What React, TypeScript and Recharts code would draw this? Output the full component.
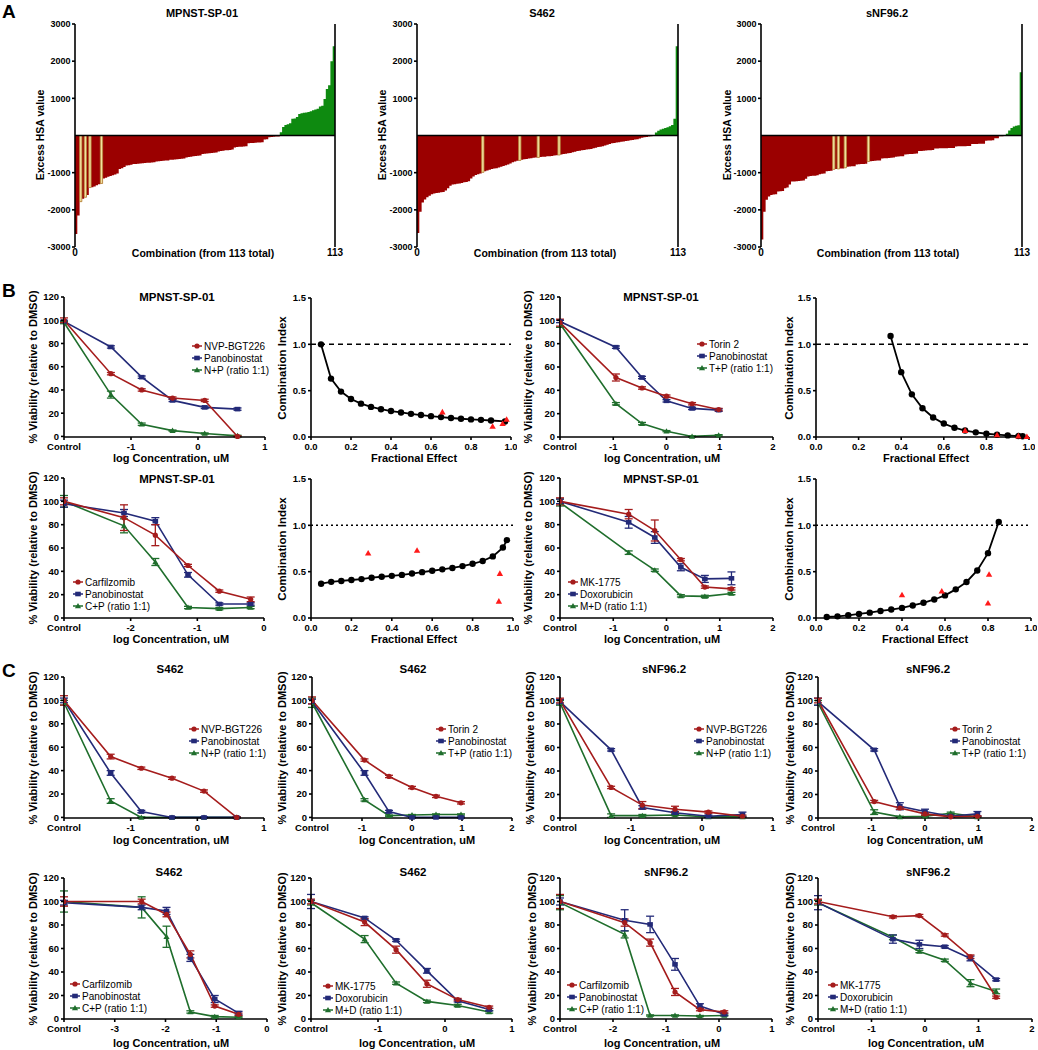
import React from 'react';
import {
  ComposedChart, Area, XAxis, YAxis, ReferenceLine,
  LineChart, Line, ErrorBar, Scatter,
} from 'recharts';

const FONT = '"Liberation Sans", Arial, Helvetica, sans-serif';
const C_RED = '#a51c1c';
const C_BLUE = '#232a78';
const C_GREEN = '#1f6e2c';
const BAR_RED = '#9b0000';
const BAR_GREEN = '#0e8a10';
const BAR_YELLOW = '#f3e0a0';
const BAR_YELLOW_EDGE = '#b58a3c';
const TRI_RED = '#ff1a1a';

// ---------------- Panel A: excess HSA values (113 combinations, sorted) ----------------
const HSA_MPNST = [
  -2650, -2150, -1780, -1700, -1660, -1600, -1400, -1390, -1370, -1340,
  -1310, -1290, -1160, -1140, -1110, -1090, -1070, -1050, -1020, -900,
  -880, -850, -810, -800, -790, -770, -765, -760, -755, -745,
  -740, -735, -730, -725, -720, -700, -690, -685, -680, -675,
  -670, -655, -650, -645, -640, -630, -625, -620, -590, -580,
  -570, -560, -550, -545, -540, -500, -490, -485, -480, -470,
  -465, -460, -430, -420, -410, -400, -395, -390, -380, -320,
  -310, -305, -300, -295, -290, -210, -205, -200, -195, -190,
  -185, -180, -110, -100, -45, -40, -35, -30, -25, 90,
  230, 280, 300, 330, 450, 460, 500, 580, 600, 610,
  620, 630, 650, 680, 700, 720, 780, 800, 980, 1250,
  1350, 2000, 2400,
];
const HSA_MPNST_HIGHLIGHT = [2, 4, 6, 11];

const HSA_S462 = [
  -2620, -2050, -1800, -1720, -1660, -1620, -1580, -1560, -1550, -1540,
  -1530, -1520, -1480, -1420, -1350, -1320, -1310, -1300, -1290, -1280,
  -1260, -1250, -1230, -1160, -1100, -1060, -1040, -1020, -990, -960,
  -940, -920, -900, -890, -880, -860, -840, -820, -800, -780,
  -750, -720, -700, -680, -670, -650, -640, -630, -620, -610,
  -600, -595, -590, -580, -575, -570, -560, -555, -550, -540,
  -530, -525, -510, -500, -490, -480, -470, -450, -440, -420,
  -410, -400, -390, -380, -370, -360, -340, -330, -310, -300,
  -290, -270, -250, -230, -210, -200, -190, -180, -170, -160,
  -150, -140, -130, -120, -110, -100, -80, -60, -50, -40,
  -30, -20, -10, 80, 130, 160, 180, 200, 220, 250,
  280, 450, 2400,
];
const HSA_S462_HIGHLIGHT = [28, 44, 52, 61];

const HSA_SNF = [
  -2800, -2050, -1730, -1640, -1600, -1590, -1580, -1510, -1500, -1490,
  -1420, -1400, -1320, -1240, -1235, -1230, -1225, -1220, -1210, -1165,
  -1100, -1090, -1085, -1080, -1070, -1040, -1030, -1020, -960, -955,
  -950, -910, -900, -900, -890, -885, -870, -840, -835, -830,
  -825, -780, -775, -770, -765, -760, -700, -690, -685, -680,
  -675, -670, -620, -615, -610, -605, -600, -595, -570, -565,
  -560, -555, -510, -505, -500, -495, -490, -485, -420, -415,
  -410, -405, -400, -395, -390, -350, -348, -346, -344, -342,
  -340, -338, -336, -334, -295, -292, -290, -288, -286, -284,
  -282, -230, -228, -226, -224, -222, -220, -140, -136, -132,
  -128, -75, -72, -20, -18, -15, 45, 136, 200, 245,
  265, 275, 1700,
];
const HSA_SNF_HIGHLIGHT = [31, 33, 36, 46];

const HSA_Y_TICKS = [-3000, -2000, -1000, 1000, 2000, 3000];

// ---------------- Panels B & C: viability (% of DMSO) ----------------
const VIAB_Y_TICKS = [0, 20, 40, 60, 80, 100, 120];

const DRUGS_NP = ['NVP-BGT226', 'Panobinostat', 'N+P (ratio 1:1)'];
const DRUGS_TP = ['Torin 2', 'Panobinostat', 'T+P (ratio 1:1)'];
const DRUGS_CP = ['Carfilzomib', 'Panobinostat', 'C+P (ratio 1:1)'];
const DRUGS_MD = ['MK-1775', 'Doxorubicin', 'M+D (ratio 1:1)'];

const B1_DOSE = [-2, -1.3, -0.84, -0.38, 0.1, 0.59];
const B1_RED = [100, 54, 40, 33, 31, 0];
const B1_BLUE = [99, 77, 51, 31, 25, 23.5];
const B1_GREEN = [98, 36, 10.5, 5, 2.5, 0.5];
const B1_RED_SD = [2, 1, 1, 1, 1, 0.5];
const B1_BLUE_SD = [1, 1, 1, 1, 1, 1];
const B1_GREEN_SD = [1, 3, 1, 0.5, 0.5, 0.5];

const B3_DOSE = [-2, -0.95, -0.46, 0, 0.48, 0.98];
const B3_RED = [98, 51, 42, 35, 28.5, 23.5];
const B3_BLUE = [99, 77, 51, 31, 24.5, 23];
const B3_GREEN = [97, 28.5, 11.5, 5, 0.5, 1.5];
const B3_RED_SD = [3, 3, 1, 1, 1, 1];
const B3_BLUE_SD = [1, 1, 1, 1, 1, 1];
const B3_GREEN_SD = [3, 1, 1, 0.5, 0.5, 0.5];

const B5_DOSE = [-3, -2.1, -1.63, -1.14, -0.67, -0.2];
const B5_RED = [100, 86, 71, 45, 23, 16];
const B5_BLUE = [98, 90, 83, 37, 12, 12];
const B5_GREEN = [100, 79, 48, 9, 8, 9];
const B5_RED_SD = [3, 11, 9, 1, 1, 2];
const B5_BLUE_SD = [3, 3, 3, 2, 1, 1];
const B5_GREEN_SD = [5, 6, 3, 1, 1, 1];

const B7_DOSE = [-2, -0.71, -0.22, 0.27, 0.72, 1.22];
const B7_RED = [100, 89, 75, 50, 26.5, 25];
const B7_BLUE = [100, 82, 69, 43.5, 33.5, 34];
const B7_GREEN = [99, 56, 41, 19, 18.5, 21];
const B7_RED_SD = [3, 4, 9, 1, 1, 1];
const B7_BLUE_SD = [2, 5, 5, 3, 3, 5.5];
const B7_GREEN_SD = [3, 1.5, 1, 1, 1, 1];

const C1_DOSE = [-2, -1.3, -0.84, -0.38, 0.1, 0.59];
const C1_RED = [100, 52, 42, 33.5, 22.5, 0];
const C1_BLUE = [100, 38, 5, 0, 0, 0];
const C1_GREEN = [98, 14, 0, 0, 0, 0];
const C1_RED_SD = [4, 2, 1, 1, 1, 0.5];
const C1_BLUE_SD = [2, 2, 1, 0.5, 0.5, 0.5];
const C1_GREEN_SD = [2, 2, 0.5, 0.5, 0.5, 0.5];

const C2_DOSE = [-2, -0.95, -0.46, 0, 0.48, 0.98];
const C2_RED = [100, 49, 35, 25.5, 18, 12.5];
const C2_BLUE = [99, 38, 5, 0, 0, 0];
const C2_GREEN = [98, 15, 1.5, 2, 2.5, 2.5];
const C2_RED_SD = [3, 1, 1, 1, 1, 1];
const C2_BLUE_SD = [2, 2, 1, 0.5, 0.5, 0.5];
const C2_GREEN_SD = [4, 1, 0.5, 0.5, 0.5, 0.5];

const C3_DOSE = [-2, -1.28, -0.84, -0.38, 0.09, 0.57];
const C3_RED = [100, 26, 11, 7.5, 5, 1.5];
const C3_BLUE = [99, 58, 9, 4.5, 1.5, 3];
const C3_GREEN = [98, 2, 2, 2.5, 1, 1];
const C3_RED_SD = [2, 1, 3, 2.5, 1, 1];
const C3_BLUE_SD = [2, 1, 1.5, 1, 1, 2];
const C3_GREEN_SD = [2, 1.5, 1, 0.5, 0.5, 0.5];

const C4_DOSE = [-2, -0.95, -0.47, 0, 0.48, 0.98];
const C4_RED = [100, 14, 8.5, 3.5, 1, 1.5];
const C4_BLUE = [99, 58, 10, 5.5, 1.5, 3.5];
const C4_GREEN = [98, 5, 1, 1.5, 4, 1];
const C4_RED_SD = [2, 1, 1, 1, 0.5, 0.5];
const C4_BLUE_SD = [3, 1, 3, 2, 0.5, 2];
const C4_GREEN_SD = [2, 2, 0.5, 0.5, 1, 0.5];

const C5_DOSE = [-4, -2.47, -1.98, -1.51, -1.03, -0.56];
const C5_RED = [100, 100, 89, 55, 11, 4];
const C5_BLUE = [99, 95, 92, 52, 17, 5];
const C5_GREEN = [100, 95, 70, 6, 2, 1.5];
const C5_RED_SD = [4, 2, 2, 3, 1, 1];
const C5_BLUE_SD = [2, 2, 3, 3, 3, 1.5];
const C5_GREEN_SD = [9, 9, 9, 1, 1, 0.5];

const C6_DOSE = [-2, -1.2, -0.73, -0.27, 0.19, 0.66];
const C6_RED = [100, 82.5, 59, 30, 16.5, 10];
const C6_BLUE = [100, 86, 67, 41, 15.5, 8];
const C6_GREEN = [99, 68, 30.5, 15, 11.5, 6];
const C6_RED_SD = [2, 3, 3, 3, 1, 1];
const C6_BLUE_SD = [6, 1, 1, 2, 1, 1];
const C6_GREEN_SD = [2, 3, 1, 1, 1, 1];

const C7_DOSE = [-3, -1.78, -1.3, -0.83, -0.36, 0.1];
const C7_RED = [100, 82, 65, 23, 8, 6];
const C7_BLUE = [100, 84, 80.5, 46.5, 11, 4];
const C7_GREEN = [99, 72, 3, 3, 2.5, 3];
const C7_RED_SD = [6, 3, 3, 3, 1, 1];
const C7_BLUE_SD = [3, 9, 7, 5, 2, 1];
const C7_GREEN_SD = [6, 3, 0.5, 0.5, 0.5, 0.5];

const C8_DOSE = [-2, -0.6, -0.105, 0.37, 0.85, 1.33];
const C8_RED = [100, 87, 88, 71.5, 53, 18.5];
const C8_BLUE = [99, 68, 63.5, 61.5, 51.5, 33.5];
const C8_GREEN = [99, 69.5, 57.5, 50, 30.5, 23.5];
const C8_RED_SD = [2, 1, 1, 1, 1.5, 1];
const C8_BLUE_SD = [6, 3.5, 3.5, 1, 2, 1];
const C8_GREEN_SD = [2, 2, 1, 1, 3, 2];

// ---------------- Panel B: combination index ----------------
const CI_X_TICKS = [0, 0.2, 0.4, 0.6, 0.8, 1.0];
const CI_Y_TICKS = [0, 0.5, 1.0, 1.5];

const B2_FA = [0.05, 0.1, 0.15, 0.2, 0.25, 0.3, 0.35, 0.4, 0.45, 0.5, 0.55, 0.6, 0.65, 0.7, 0.75, 0.8, 0.85, 0.9, 0.97];
const B2_CI = [1.0, 0.63, 0.49, 0.41, 0.36, 0.325, 0.3, 0.28, 0.265, 0.25, 0.237, 0.225, 0.215, 0.205, 0.197, 0.19, 0.185, 0.178, 0.168];
const B2_OBS_FA = [0.657, 0.908, 0.958, 0.978];
const B2_OBS_CI = [0.27, 0.115, 0.144, 0.19];

const B4_FA = [0.35, 0.4, 0.45, 0.5, 0.55, 0.6, 0.65, 0.7, 0.75, 0.8, 0.85, 0.9, 0.95, 0.97];
const B4_CI = [1.09, 0.7, 0.46, 0.31, 0.21, 0.145, 0.1, 0.07, 0.05, 0.035, 0.025, 0.017, 0.01, 0.008];
const B4_OBS_FA = [0.7, 0.85, 0.95, 0.99];
const B4_OBS_CI = [0.07, 0.022, 0.01, 0.004];

const B6_FA = [0.05, 0.1, 0.15, 0.2, 0.25, 0.3, 0.35, 0.4, 0.45, 0.5, 0.55, 0.6, 0.65, 0.7, 0.75, 0.8, 0.85, 0.9, 0.95, 0.97];
const B6_CI = [0.37, 0.39, 0.4, 0.41, 0.42, 0.435, 0.445, 0.455, 0.465, 0.48, 0.495, 0.51, 0.525, 0.54, 0.56, 0.585, 0.615, 0.665, 0.76, 0.84];
const B6_OBS_FA = [0.283, 0.525, 0.935, 0.93];
const B6_OBS_CI = [0.7, 0.73, 0.48, 0.18];

const B8_FA = [0.05, 0.1, 0.15, 0.2, 0.25, 0.3, 0.35, 0.4, 0.45, 0.5, 0.55, 0.6, 0.65, 0.7, 0.75, 0.8, 0.85];
const B8_CI = [0.011, 0.018, 0.029, 0.044, 0.058, 0.076, 0.091, 0.109, 0.135, 0.164, 0.2, 0.244, 0.309, 0.389, 0.513, 0.7, 1.036];
const B8_OBS_FA = [0.4, 0.585, 0.805, 0.8];
const B8_OBS_CI = [0.25, 0.29, 0.47, 0.16];

// ---------------- layout helpers ----------------
type Rect = { l: number; t: number; r: number; b: number };
const YW = 40;
const MT = 6;
const MR = 6;
const MR_HSA = 14;
const XH = 24;

const AXIS_LINE = { stroke: '#000', strokeWidth: 1.6 };
const TICK_STYLE = { fontSize: 9.5, fontWeight: 700, fill: '#000', fontFamily: FONT };

function Txt(props: { x: number; y: number; size?: number; weight?: number; rotate?: boolean; left?: boolean; children: React.ReactNode }) {
  const { x, y, size = 11, weight = 700, rotate = false, left = false, children } = props;
  return (
    <div
      style={{
        position: 'absolute', left: x, top: y, fontFamily: FONT, fontSize: size, fontWeight: weight,
        color: '#000', whiteSpace: 'nowrap', lineHeight: 1,
        transform: `translate(${left ? '0' : '-50%'}, -50%)${rotate ? ' rotate(-90deg)' : ''}`,
      }}
    >
      {children}
    </div>
  );
}

type Shape = 'circle' | 'square' | 'triangle';
function marker(shape: Shape, cx: number, cy: number, color: string, key?: any) {
  if (shape === 'circle') return <circle key={key} cx={cx} cy={cy} r={2.6} fill={color} />;
  if (shape === 'square') return <rect key={key} x={cx - 2.8} y={cy - 2.3} width={5.6} height={4.6} fill={color} />;
  return <path key={key} d={`M${cx},${cy - 3} L${cx + 3.1},${cy + 2.3} L${cx - 3.1},${cy + 2.3} Z`} fill={color} />;
}

const SERIES: { key: string; err: string; color: string; shape: Shape }[] = [
  { key: 'g', err: 'ge', color: C_GREEN, shape: 'triangle' },
  { key: 'b', err: 'be', color: C_BLUE, shape: 'square' },
  { key: 'r', err: 're', color: C_RED, shape: 'circle' },
];
const LEGEND_ORDER: { color: string; shape: Shape }[] = [
  { color: C_RED, shape: 'circle' },
  { color: C_BLUE, shape: 'square' },
  { color: C_GREEN, shape: 'triangle' },
];

function LegendBox(props: { x: number; y: number; names: string[] }) {
  const { x, y, names } = props;
  return (
    <div style={{ position: 'absolute', left: x, top: y - 6, fontFamily: FONT, fontSize: 10, color: '#000' }}>
      {names.map((n, i) => (
        <div key={n} style={{ display: 'flex', alignItems: 'center', height: 12, whiteSpace: 'nowrap' }}>
          <svg width={10} height={8} style={{ display: 'block' }}>
            <line x1={0} y1={4} x2={10} y2={4} stroke={LEGEND_ORDER[i].color} strokeWidth={1.5} />
            {marker(LEGEND_ORDER[i].shape, 5, 4, LEGEND_ORDER[i].color)}
          </svg>
          <span style={{ marginLeft: 2 }}>{n}</span>
        </div>
      ))}
    </div>
  );
}

// ---------------- HSA waterfall (contiguous step bars) ----------------
function HsaChart(props: { values: number[]; highlight: number[]; plot: Rect }) {
  const { values, highlight, plot } = props;
  const n = values.length;
  const rows = values.map((v, i) => ({
    x: i,
    neg: Math.min(v, 0),
    pos: Math.max(v, 0),
    hl: highlight.includes(i) ? v : 0,
  }));
  rows.push({ x: n, neg: 0, pos: 0, hl: 0 });
  const w = plot.r - plot.l;
  const h = plot.b - plot.t;
  return (
    <div style={{ position: 'absolute', left: plot.l - YW, top: plot.t - MT }}>
      <ComposedChart width={w + YW + MR_HSA + 1} height={h + MT + XH} data={rows} margin={{ top: MT, right: MR_HSA, left: 0, bottom: 0 }}>
        <XAxis dataKey="x" type="number" domain={[0, n]} ticks={[0, n]} interval={0} axisLine={false} tickLine={false}
          tickSize={0} tickMargin={2} height={XH} tick={{ ...TICK_STYLE, fontSize: 10 }} />
        <YAxis yAxisId="l" width={YW} type="number" domain={[-3000, 3000]} ticks={HSA_Y_TICKS} interval={0}
          axisLine={AXIS_LINE} tickLine={AXIS_LINE} tickSize={3} tickMargin={1.5} tick={{ ...TICK_STYLE, fontSize: 9 }} />
        <YAxis yAxisId="r" orientation="right" width={1} type="number" domain={[-3000, 3000]} tick={false} tickLine={false} axisLine={AXIS_LINE} />
        <Area yAxisId="l" type="stepAfter" dataKey="neg" baseValue={0} fill={BAR_RED} fillOpacity={1} stroke="none" isAnimationActive={false} dot={false} activeDot={false} />
        <Area yAxisId="l" type="stepAfter" dataKey="pos" baseValue={0} fill={BAR_GREEN} fillOpacity={1} stroke="none" isAnimationActive={false} dot={false} activeDot={false} />
        <Area yAxisId="l" type="stepAfter" dataKey="hl" baseValue={0} fill={BAR_YELLOW} fillOpacity={1} stroke={BAR_YELLOW_EDGE} strokeWidth={0.8} isAnimationActive={false} dot={false} activeDot={false} />
        <ReferenceLine yAxisId="l" y={0} stroke="#000" strokeWidth={1.6} />
      </ComposedChart>
    </div>
  );
}

// ---------------- viability chart ----------------
type ViabCfg = {
  id: string; plot: Rect; dose: number[]; red: number[]; blue: number[]; green: number[];
  redSd: number[]; blueSd: number[]; greenSd: number[]; domain: [number, number]; ticks: number[];
  drugs: string[]; title: string; tx: number; ty: number; ylx: number; xlx: number; xly: number; lx: number; ly: number;
};

function ViabilityChart({ cfg }: { cfg: ViabCfg }) {
  const { plot, dose, red, blue, green, redSd, blueSd, greenSd, domain, ticks } = cfg;
  const data = dose.map((x, i) => ({ x, r: red[i], b: blue[i], g: green[i], re: redSd[i], be: blueSd[i], ge: greenSd[i] }));
  const w = plot.r - plot.l;
  const h = plot.b - plot.t;
  return (
    <div style={{ position: 'absolute', left: plot.l - YW, top: plot.t - MT }}>
      <LineChart width={w + YW + MR} height={h + MT + XH} data={data} margin={{ top: MT, right: MR, left: 0, bottom: 0 }}>
        <XAxis dataKey="x" type="number" domain={domain} ticks={ticks} interval={0} allowDataOverflow height={XH}
          tickFormatter={(v: number) => (v === domain[0] ? 'Control' : String(v))}
          axisLine={AXIS_LINE} tickLine={AXIS_LINE} tickSize={3} tickMargin={3} tick={TICK_STYLE} />
        <YAxis type="number" domain={[0, 120]} ticks={VIAB_Y_TICKS} interval={0} width={YW}
          axisLine={AXIS_LINE} tickLine={AXIS_LINE} tickSize={3} tickMargin={2} tick={TICK_STYLE} />
        {SERIES.map((s) => (
          <Line key={s.key} dataKey={s.key} stroke={s.color} strokeWidth={1.6} isAnimationActive={false}
            dot={(p: any) => (p.cy == null ? <g key={p.index} /> : marker(s.shape, p.cx, p.cy, s.color, p.index))}
            activeDot={false}>
            <ErrorBar dataKey={s.err} width={4} stroke={s.color} strokeWidth={1.3} direction="y" />
          </Line>
        ))}
      </LineChart>
    </div>
  );
}

// ---------------- combination index chart ----------------
type CiCfg = { id: string; plot: Rect; fa: number[]; ci: number[]; obsFa: number[]; obsCi: number[]; dash: string; ylx: number; xlx: number; xly: number };

function CIChart({ cfg }: { cfg: CiCfg }) {
  const { plot, fa, ci, obsFa, obsCi, dash } = cfg;
  const curve = fa.map((f, i) => ({ fa: f, ci: ci[i] }));
  const obs = obsFa.map((f, i) => ({ fa: f, ci: obsCi[i] }));
  const w = plot.r - plot.l;
  const h = plot.b - plot.t;
  return (
    <div style={{ position: 'absolute', left: plot.l - YW, top: plot.t - MT }}>
      <ComposedChart width={w + YW + MR} height={h + MT + XH} data={curve} margin={{ top: MT, right: MR, left: 0, bottom: 0 }}>
        <XAxis dataKey="fa" type="number" domain={[0, 1]} ticks={CI_X_TICKS} interval={0} height={XH}
          tickFormatter={(v: number) => v.toFixed(1)}
          axisLine={AXIS_LINE} tickLine={AXIS_LINE} tickSize={3} tickMargin={3} tick={TICK_STYLE} />
        <YAxis dataKey="ci" type="number" domain={[0, 1.5]} ticks={CI_Y_TICKS} interval={0} width={YW}
          tickFormatter={(v: number) => v.toFixed(1)}
          axisLine={AXIS_LINE} tickLine={AXIS_LINE} tickSize={3} tickMargin={2} tick={TICK_STYLE} />
        <ReferenceLine y={1} stroke="#000" strokeWidth={1.5} strokeDasharray={dash} />
        <Line dataKey="ci" stroke="#000" strokeWidth={1.8} isAnimationActive={false} activeDot={false}
          dot={(p: any) => <circle key={p.index} cx={p.cx} cy={p.cy} r={3.2} fill="#000" />} />
        <Scatter data={obs} dataKey="ci" isAnimationActive={false}
          shape={(p: any) => <path d={`M${p.cx},${p.cy - 3.2} L${p.cx + 3.2},${p.cy + 2.4} L${p.cx - 3.2},${p.cy + 2.4} Z`} fill={TRI_RED} />} />
      </ComposedChart>
    </div>
  );
}

// ---------------- configuration (positions) ----------------
const HSA_PANELS = [
  { values: HSA_MPNST, highlight: HSA_MPNST_HIGHLIGHT, plot: { l: 75, t: 24, r: 335, b: 247 }, title: 'MPNST-SP-01', tx: 202, ylx: 40, xlx: 203 },
  { values: HSA_S462, highlight: HSA_S462_HIGHLIGHT, plot: { l: 417, t: 24, r: 678, b: 247 }, title: 'S462', tx: 542, ylx: 382, xlx: 545 },
  { values: HSA_SNF, highlight: HSA_SNF_HIGHLIGHT, plot: { l: 761, t: 24, r: 1022, b: 247 }, title: 'sNF96.2', tx: 887, ylx: 727, xlx: 888 },
];

const VIAB_PANELS: ViabCfg[] = [
  { id: 'B1', plot: { l: 64, t: 297, r: 265, b: 437 }, dose: B1_DOSE, red: B1_RED, blue: B1_BLUE, green: B1_GREEN, redSd: B1_RED_SD, blueSd: B1_BLUE_SD, greenSd: B1_GREEN_SD, domain: [-2, 1], ticks: [-2, -1, 0, 1], drugs: DRUGS_NP, title: 'MPNST-SP-01', tx: 177, ty: 298, ylx: 33, xlx: 171, xly: 458, lx: 192, ly: 346 },
  { id: 'B3', plot: { l: 560, t: 297, r: 773, b: 437 }, dose: B3_DOSE, red: B3_RED, blue: B3_BLUE, green: B3_GREEN, redSd: B3_RED_SD, blueSd: B3_BLUE_SD, greenSd: B3_GREEN_SD, domain: [-2, 2], ticks: [-2, -1, 0, 1, 2], drugs: DRUGS_TP, title: 'MPNST-SP-01', tx: 661, ty: 298, ylx: 528, xlx: 662, xly: 458, lx: 697, ly: 344 },
  { id: 'B5', plot: { l: 64, t: 478, r: 264, b: 618 }, dose: B5_DOSE, red: B5_RED, blue: B5_BLUE, green: B5_GREEN, redSd: B5_RED_SD, blueSd: B5_BLUE_SD, greenSd: B5_GREEN_SD, domain: [-3, 0], ticks: [-3, -2, -1, 0], drugs: DRUGS_CP, title: 'MPNST-SP-01', tx: 177, ty: 480, ylx: 33, xlx: 171, xly: 639, lx: 73, ly: 582 },
  { id: 'B7', plot: { l: 560, t: 478, r: 773, b: 618 }, dose: B7_DOSE, red: B7_RED, blue: B7_BLUE, green: B7_GREEN, redSd: B7_RED_SD, blueSd: B7_BLUE_SD, greenSd: B7_GREEN_SD, domain: [-2, 2], ticks: [-2, -1, 0, 1, 2], drugs: DRUGS_MD, title: 'MPNST-SP-01', tx: 661, ty: 480, ylx: 528, xlx: 662, xly: 639, lx: 568, ly: 582 },
  { id: 'C1', plot: { l: 64, t: 677, r: 264, b: 818 }, dose: C1_DOSE, red: C1_RED, blue: C1_BLUE, green: C1_GREEN, redSd: C1_RED_SD, blueSd: C1_BLUE_SD, greenSd: C1_GREEN_SD, domain: [-2, 1], ticks: [-2, -1, 0, 1], drugs: DRUGS_NP, title: 'S462', tx: 170, ty: 670, ylx: 33, xlx: 171, xly: 840, lx: 189, ly: 729 },
  { id: 'C2', plot: { l: 312, t: 677, r: 512, b: 818 }, dose: C2_DOSE, red: C2_RED, blue: C2_BLUE, green: C2_GREEN, redSd: C2_RED_SD, blueSd: C2_BLUE_SD, greenSd: C2_GREEN_SD, domain: [-2, 2], ticks: [-2, -1, 0, 1, 2], drugs: DRUGS_TP, title: 'S462', tx: 413, ty: 670, ylx: 282, xlx: 417, xly: 840, lx: 436, ly: 729 },
  { id: 'C3', plot: { l: 560, t: 677, r: 773, b: 818 }, dose: C3_DOSE, red: C3_RED, blue: C3_BLUE, green: C3_GREEN, redSd: C3_RED_SD, blueSd: C3_BLUE_SD, greenSd: C3_GREEN_SD, domain: [-2, 1], ticks: [-2, -1, 0, 1], drugs: DRUGS_NP, title: 'sNF96.2', tx: 664, ty: 670, ylx: 530, xlx: 662, xly: 840, lx: 694, ly: 729 },
  { id: 'C4', plot: { l: 818, t: 677, r: 1032, b: 818 }, dose: C4_DOSE, red: C4_RED, blue: C4_BLUE, green: C4_GREEN, redSd: C4_RED_SD, blueSd: C4_BLUE_SD, greenSd: C4_GREEN_SD, domain: [-2, 2], ticks: [-2, -1, 0, 1, 2], drugs: DRUGS_TP, title: 'sNF96.2', tx: 928, ty: 670, ylx: 790, xlx: 925, xly: 840, lx: 950, ly: 729 },
  { id: 'C5', plot: { l: 64, t: 878, r: 267, b: 1019 }, dose: C5_DOSE, red: C5_RED, blue: C5_BLUE, green: C5_GREEN, redSd: C5_RED_SD, blueSd: C5_BLUE_SD, greenSd: C5_GREEN_SD, domain: [-4, 0], ticks: [-4, -3, -2, -1, 0], drugs: DRUGS_CP, title: 'S462', tx: 169, ty: 873, ylx: 33, xlx: 171, xly: 1043, lx: 70, ly: 984 },
  { id: 'C6', plot: { l: 311, t: 878, r: 512, b: 1019 }, dose: C6_DOSE, red: C6_RED, blue: C6_BLUE, green: C6_GREEN, redSd: C6_RED_SD, blueSd: C6_BLUE_SD, greenSd: C6_GREEN_SD, domain: [-2, 1], ticks: [-2, -1, 0, 1], drugs: DRUGS_MD, title: 'S462', tx: 413, ty: 873, ylx: 282, xlx: 417, xly: 1043, lx: 323, ly: 986 },
  { id: 'C7', plot: { l: 560, t: 878, r: 772, b: 1019 }, dose: C7_DOSE, red: C7_RED, blue: C7_BLUE, green: C7_GREEN, redSd: C7_RED_SD, blueSd: C7_BLUE_SD, greenSd: C7_GREEN_SD, domain: [-3, 1], ticks: [-3, -2, -1, 0, 1], drugs: DRUGS_CP, title: 'sNF96.2', tx: 666, ty: 873, ylx: 532, xlx: 662, xly: 1043, lx: 567, ly: 985 },
  { id: 'C8', plot: { l: 818, t: 878, r: 1032, b: 1019 }, dose: C8_DOSE, red: C8_RED, blue: C8_BLUE, green: C8_GREEN, redSd: C8_RED_SD, blueSd: C8_BLUE_SD, greenSd: C8_GREEN_SD, domain: [-2, 2], ticks: [-2, -1, 0, 1, 2], drugs: DRUGS_MD, title: 'sNF96.2', tx: 928, ty: 873, ylx: 790, xlx: 926, xly: 1043, lx: 828, ly: 985 },
];

const CI_PANELS: CiCfg[] = [
  { id: 'B2', plot: { l: 311, t: 298, r: 511, b: 437 }, fa: B2_FA, ci: B2_CI, obsFa: B2_OBS_FA, obsCi: B2_OBS_CI, dash: '5 4', ylx: 283, xlx: 414, xly: 458 },
  { id: 'B4', plot: { l: 816, t: 298, r: 1029, b: 437 }, fa: B4_FA, ci: B4_CI, obsFa: B4_OBS_FA, obsCi: B4_OBS_CI, dash: '5 4', ylx: 790, xlx: 926, xly: 458 },
  { id: 'B6', plot: { l: 311, t: 479, r: 513, b: 618 }, fa: B6_FA, ci: B6_CI, obsFa: B6_OBS_FA, obsCi: B6_OBS_CI, dash: '2 3', ylx: 283, xlx: 414, xly: 639 },
  { id: 'B8', plot: { l: 816, t: 479, r: 1031, b: 618 }, fa: B8_FA, ci: B8_CI, obsFa: B8_OBS_FA, obsCi: B8_OBS_CI, dash: '2 3', ylx: 790, xlx: 925, xly: 639 },
];

export default function App() {
  return (
    <div style={{ position: 'absolute', left: 0, top: 0, width: 1038, height: 1050, background: '#fff', overflow: 'hidden' }}>
      <Txt x={2} y={11} size={19} left>A</Txt>
      <Txt x={2} y={290} size={19} left>B</Txt>
      <Txt x={2} y={670} size={19} left>C</Txt>

      {HSA_PANELS.map((p) => (
        <React.Fragment key={p.title}>
          <HsaChart values={p.values} highlight={p.highlight} plot={p.plot} />
          <Txt x={p.tx} y={13}>{p.title}</Txt>
          <Txt x={p.ylx} y={135} size={10.5} rotate>Excess HSA value</Txt>
          <Txt x={p.xlx} y={253} size={10.5}>Combination (from 113 total)</Txt>
        </React.Fragment>
      ))}

      {VIAB_PANELS.map((c) => (
        <React.Fragment key={c.id}>
          <ViabilityChart cfg={c} />
          <Txt x={c.tx} y={c.ty} size={11.5}>{c.title}</Txt>
          <Txt x={c.ylx} y={(c.plot.t + c.plot.b) / 2} rotate>% Viability (relative to DMSO)</Txt>
          <Txt x={c.xlx} y={c.xly}>log Concentration, uM</Txt>
          <LegendBox x={c.lx} y={c.ly} names={c.drugs} />
        </React.Fragment>
      ))}

      {CI_PANELS.map((c) => (
        <React.Fragment key={c.id}>
          <CIChart cfg={c} />
          <Txt x={c.ylx} y={(c.plot.t + c.plot.b) / 2} size={11.5} rotate>Combination Index</Txt>
          <Txt x={c.xlx} y={c.xly}>Fractional Effect</Txt>
        </React.Fragment>
      ))}
    </div>
  );
}
